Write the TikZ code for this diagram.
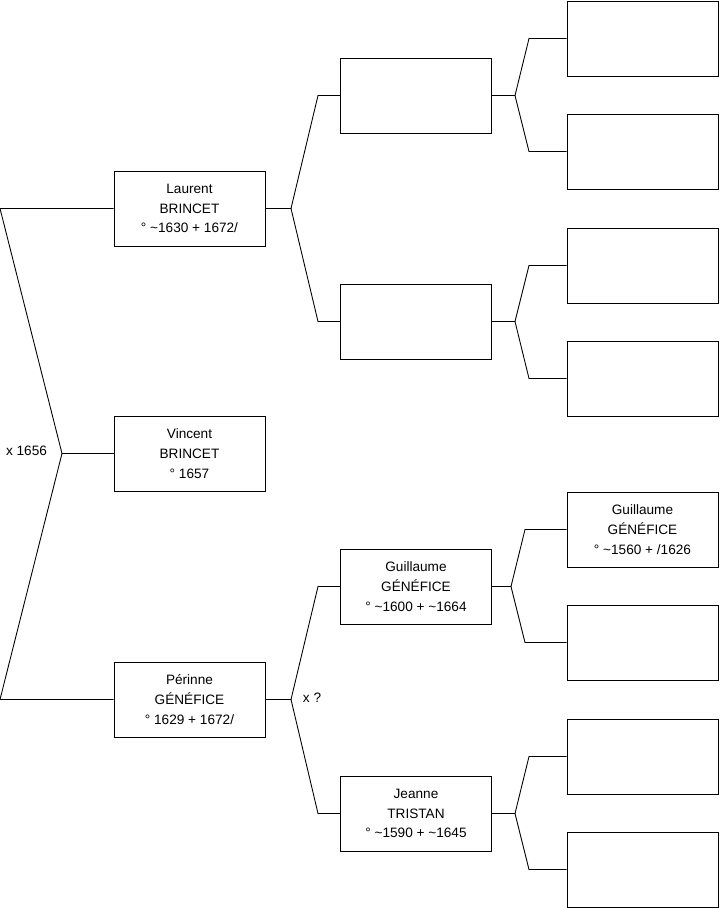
\documentclass[tikz,border=0pt]{standalone}
\usepackage{fontspec}
\setmainfont{Liberation Sans}
\usetikzlibrary{positioning}

\begin{document}
\begin{tikzpicture}[x=0.02cm, y=-0.02cm, line width=0.5pt,
  person/.style={draw, rectangle, minimum width=3.02cm, minimum height=1.5cm, align=center, font=\fontsize{7.75}{11.3}\selectfont},
  union/.style={font=\fontsize{7.75}{11.3}\selectfont}]
\useasboundingbox (0,0) rectangle (719,908);
\coordinate (origin) at (0, 0);

% generation 1
\node[person] at (189.5,208.5) (laurent) {Laurent\\BRINCET\\° \textasciitilde1630 + 1672/};
\node[person] at (189.5,453.5) (vincent) {Vincent\\BRINCET\\° 1657};
\node[person] at (189.5,699.5) (perinne) {Périnne\\GÉNÉFICE\\° 1629 + 1672/};

% generation 2
\node[person] at (416,95.5) (lfather) {};
\node[person] at (416,321.5) (lmother) {};
\node[person] at (416,586.5) (pfather) {Guillaume\\GÉNÉFICE\\° \textasciitilde1600 + \textasciitilde1664};
\node[person] at (416,813.5) (pmother) {Jeanne\\TRISTAN\\° \textasciitilde1590 + \textasciitilde1645};

% generation 3
\node[person] at (642.5,38.5) (g1) {};
\node[person] at (642.5,151.5) (g2) {};
\node[person] at (642.5,265.5) (g3) {};
\node[person] at (642.5,378.5) (g4) {};
\node[person] at (642.5,529.5) (g5) {Guillaume\\GÉNÉFICE\\° \textasciitilde1560 + /1626};
\node[person] at (642.5,642.5) (g6) {};
\node[person] at (642.5,756.5) (g7) {};
\node[person] at (642.5,869.5) (g8) {};

% couple of generation 1
\coordinate (c0top) at (0,208.5);
\coordinate (c0) at (62,453.5);
\coordinate (c0bot) at (0,699.5);
\draw (laurent.west) -- (c0top) -- (c0) -- (c0bot) -- (perinne.west);
\draw (c0) -- (vincent.west);
\node[union] at (26.5,451) (m0) {x 1656};

% parents of laurent and perinne
\coordinate (c1) at (291,208.5);
\coordinate (c1a) at (318,95.5);
\coordinate (c1b) at (318,321.5);
\draw (laurent.east) -- (c1);
\draw (lfather.west) -- (c1a) -- (c1) -- (c1b) -- (lmother.west);

\coordinate (c2) at (291,699.5);
\coordinate (c2a) at (318,586.5);
\coordinate (c2b) at (318,813.5);
\draw (perinne.east) -- (c2);
\draw (pfather.west) -- (c2a) -- (c2) -- (c2b) -- (pmother.west);
\node[union] at (312,698) (m2) {x ?};

% grandparents
\coordinate (c3) at (515,95.5);
\coordinate (c3a) at (529,38.5);
\coordinate (c3b) at (529,151.5);
\draw (lfather.east) -- (c3);
\draw (g1.west) -- (c3a) -- (c3) -- (c3b) -- (g2.west);

\coordinate (c4) at (515,321.5);
\coordinate (c4a) at (529,265.5);
\coordinate (c4b) at (529,378.5);
\draw (lmother.east) -- (c4);
\draw (g3.west) -- (c4a) -- (c4) -- (c4b) -- (g4.west);

\coordinate (c5) at (511,586.5);
\coordinate (c5a) at (525,529.5);
\coordinate (c5b) at (525,642.5);
\draw (pfather.east) -- (c5);
\draw (g5.west) -- (c5a) -- (c5) -- (c5b) -- (g6.west);

\coordinate (c6) at (515,813.5);
\coordinate (c6a) at (529,756.5);
\coordinate (c6b) at (529,869.5);
\draw (pmother.east) -- (c6);
\draw (g7.west) -- (c6a) -- (c6) -- (c6b) -- (g8.west);
\end{tikzpicture}
\end{document}
